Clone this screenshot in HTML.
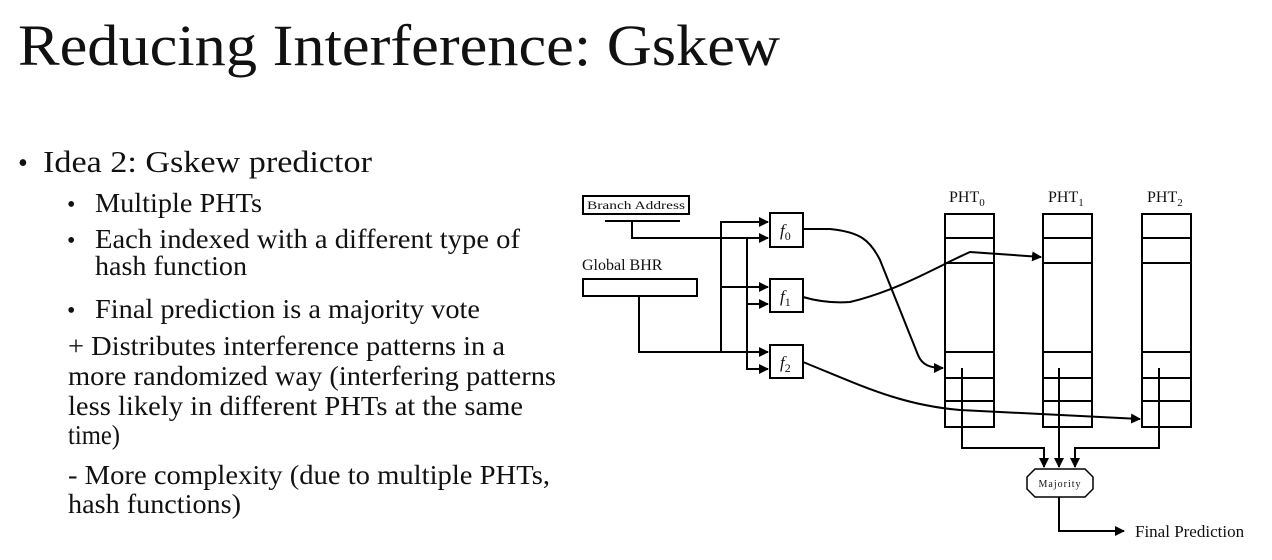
<!DOCTYPE html>
<html><head><meta charset="utf-8"><style>
html,body{margin:0;padding:0;background:#fff;}
svg{display:block;font-family:"Liberation Serif",serif;}
</style></head><body>
<svg width="1272" height="560" viewBox="0 0 1272 560" xmlns="http://www.w3.org/2000/svg">
<defs><marker id="a" markerWidth="10" markerHeight="10" refX="9" refY="5" orient="auto" markerUnits="userSpaceOnUse"><path d="M0,0 L10,5 L0,10 z" fill="#000"/></marker></defs>
<g fill="#111">
<text x="18" y="65" font-size="58" textLength="762" lengthAdjust="spacingAndGlyphs">Reducing Interference: Gskew</text>
<text x="18" y="172" font-size="28">•</text>
<text x="43" y="172" font-size="31" textLength="329" lengthAdjust="spacingAndGlyphs">Idea 2: Gskew predictor</text>
<g font-size="27">
<text x="67" y="212" font-size="24">•</text>
<text x="95" y="212" textLength="167" lengthAdjust="spacingAndGlyphs">Multiple PHTs</text>
<text x="67" y="248" font-size="24">•</text>
<text x="95" y="248" textLength="425" lengthAdjust="spacingAndGlyphs">Each indexed with a different type of</text>
<text x="95" y="275" textLength="152" lengthAdjust="spacingAndGlyphs">hash function</text>
<text x="67" y="318" font-size="24">•</text>
<text x="95" y="318" textLength="385" lengthAdjust="spacingAndGlyphs">Final prediction is a majority vote</text>
<text x="68" y="355" textLength="437" lengthAdjust="spacingAndGlyphs">+ Distributes interference patterns in a</text>
<text x="68" y="385" textLength="488" lengthAdjust="spacingAndGlyphs">more randomized way (interfering patterns</text>
<text x="68" y="415" textLength="455" lengthAdjust="spacingAndGlyphs">less likely in different PHTs at the same</text>
<text x="68" y="444" textLength="52" lengthAdjust="spacingAndGlyphs">time)</text>
<text x="68" y="484" textLength="482" lengthAdjust="spacingAndGlyphs">- More complexity (due to multiple PHTs,</text>
<text x="68" y="513" textLength="173" lengthAdjust="spacingAndGlyphs">hash functions)</text>
</g>
</g>
<g fill="none" stroke="#000" stroke-width="2">
<rect x="583" y="196" width="106" height="18"/>
<line x1="605" y1="221" x2="680" y2="221"/>
<polyline points="632,221 632,238 768,238" marker-end="url(#a)"/>
<rect x="583" y="279" width="114" height="17"/>
<polyline points="639,296 639,352 768,352" marker-end="url(#a)"/>
<polyline points="721,352 721,222 768,222" marker-end="url(#a)"/>
<line x1="721" y1="287" x2="768" y2="287" marker-end="url(#a)"/>
<polyline points="747,238 747,369 768,369" marker-end="url(#a)"/>
<line x1="747" y1="304" x2="768" y2="304" marker-end="url(#a)"/>
<rect x="770" y="213" width="33" height="34"/>
<rect x="770" y="279" width="33" height="33"/>
<rect x="770" y="345" width="33" height="33"/>
<path d="M803,229 L830,229 C860,232 870,240 880,260 L918,355 C922,365 930,368 943,368" marker-end="url(#a)"/>
<path d="M803,297 C820,302 835,303 850,302 C900,290 940,265 970,252 L1041,257" marker-end="url(#a)"/>
<path d="M803,362 C860,385 900,405 960,410 L1140,419" marker-end="url(#a)"/>
<g>
<rect x="945" y="214" width="49" height="213"/><line x1="945" y1="238" x2="994" y2="238"/><line x1="945" y1="263" x2="994" y2="263"/><line x1="945" y1="352" x2="994" y2="352"/><line x1="945" y1="378" x2="994" y2="378"/><line x1="945" y1="401" x2="994" y2="401"/>
<rect x="1043" y="214" width="49" height="213"/><line x1="1043" y1="238" x2="1092" y2="238"/><line x1="1043" y1="263" x2="1092" y2="263"/><line x1="1043" y1="352" x2="1092" y2="352"/><line x1="1043" y1="378" x2="1092" y2="378"/><line x1="1043" y1="401" x2="1092" y2="401"/>
<rect x="1142" y="214" width="49" height="213"/><line x1="1142" y1="238" x2="1191" y2="238"/><line x1="1142" y1="263" x2="1191" y2="263"/><line x1="1142" y1="352" x2="1191" y2="352"/><line x1="1142" y1="378" x2="1191" y2="378"/><line x1="1142" y1="401" x2="1191" y2="401"/>
</g>
<polyline points="962,368 962,448 1044,448 1044,467" marker-end="url(#a)"/>
<line x1="1059" y1="368" x2="1059" y2="467" marker-end="url(#a)"/>
<polyline points="1159,368 1159,448 1075,448 1075,467" marker-end="url(#a)"/>
<polygon points="1035,469 1085,469 1093,477 1093,489 1085,497 1035,497 1027,489 1027,477" stroke-width="1.5"/>
<polyline points="1059,497 1059,531 1124,531" marker-end="url(#a)"/>
</g>
<g fill="#111">
<text x="587" y="209" font-size="12" textLength="98" lengthAdjust="spacingAndGlyphs">Branch Address</text>
<text x="582" y="270" font-size="16">Global BHR</text>
<text x="780" y="236" font-size="17" font-style="italic">f<tspan font-size="12" dy="4" font-style="normal">0</tspan></text>
<text x="780" y="302" font-size="17" font-style="italic">f<tspan font-size="12" dy="4" font-style="normal">1</tspan></text>
<text x="780" y="368" font-size="17" font-style="italic">f<tspan font-size="12" dy="4" font-style="normal">2</tspan></text>
<text x="949" y="202" font-size="16">PHT<tspan font-size="11" dy="4">0</tspan></text>
<text x="1048" y="202" font-size="16">PHT<tspan font-size="11" dy="4">1</tspan></text>
<text x="1147" y="202" font-size="16">PHT<tspan font-size="11" dy="4">2</tspan></text>
<text x="1060" y="487" font-size="10" text-anchor="middle" letter-spacing="1">Majority</text>
<text x="1135" y="537" font-size="17">Final Prediction</text>
</g>
</svg>
</body></html>
